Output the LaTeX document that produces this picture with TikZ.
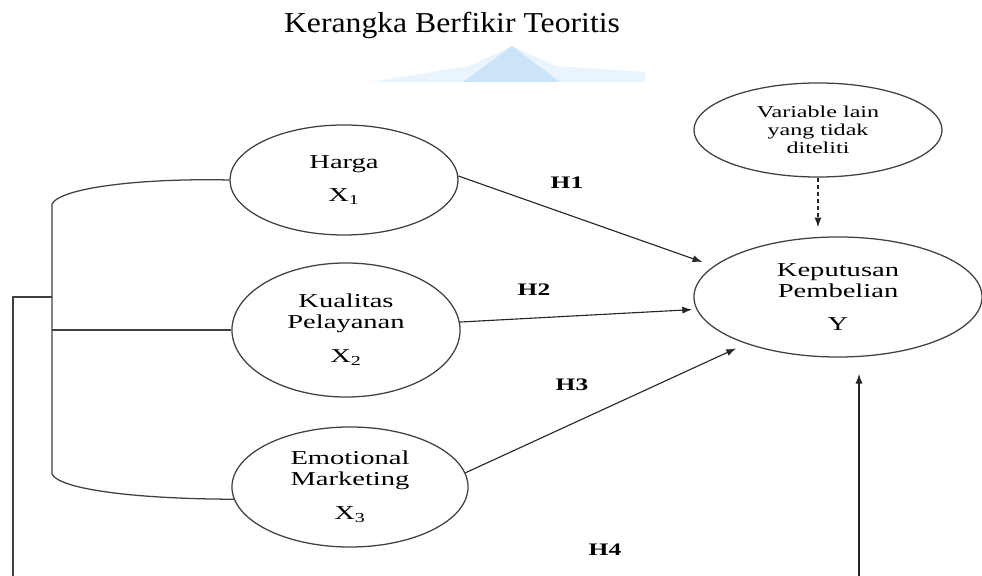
\documentclass[tikz,border=0pt]{standalone}
\usepackage{fontspec}
\setmainfont{Liberation Serif}
\newfontfamily\wideFont[FakeStretch=1.45]{Liberation Serif}
\newfontfamily\titleFont[FakeStretch=1.1]{Liberation Serif}
\usetikzlibrary{positioning,arrows.meta,shapes.geometric}
\definecolor{logoBlue}{RGB}{204,228,247}
\definecolor{logoPale}{RGB}{234,244,252}
\tikzset{varStyle/.style={
    ellipse,
    draw=black!75,
    line width=0.9pt,
    inner sep=0pt,
    align=center,
    font=\wideFont\fontsize{14}{15}\selectfont}
}
\tikzset{arrowStyle/.style={
    -{Latex[length=7pt,width=5pt]},
    line width=0.8pt,
    color=black!85}
}
\tikzset{lineStyle/.style={
    line width=0.9pt,
    color=black!75}
}
\tikzset{hypStyle/.style={font=\wideFont\bfseries\fontsize{12.5}{13}\selectfont}}

\begin{document}
\begin{tikzpicture}[x=0.025cm,y=-0.025cm]
      \useasboundingbox (0,0) rectangle (982,576);
      % faint logo behind the title
      \fill[color=logoPale] (370,82) -- (470,66) -- (512,46) -- (556,66) -- (645,72) -- (645,82) -- cycle;
      \fill[color=logoBlue] (463,82) -- (512,46) -- (560,82) -- cycle;

      \node[anchor=base, font=\titleFont\fontsize{20.5}{23}\selectfont] (title)
      at (452,33) {Kerangka Berfikir Teoritis};

      % variables
      \node[varStyle, minimum width=5.7cm, minimum height=2.75cm] (harga)
      at (344,180) {Harga\\[9pt]X\textsubscript{1}};
      \node[varStyle, minimum width=5.7cm, minimum height=3.35cm] (kual)
      at (346,330) {Kualitas\\Pelayanan\\[9pt]X\textsubscript{2}};
      \node[varStyle, minimum width=5.9cm, minimum height=3.0cm] (emo)
      at (350,487) {Emotional\\Marketing\\[9pt]X\textsubscript{3}};
      \node[varStyle, minimum width=7.2cm, minimum height=3.0cm] (kep)
      at (838,297) {Keputusan\\Pembelian\\[9pt]Y};
      \node[varStyle, minimum width=6.2cm, minimum height=2.35cm,
      font=\wideFont\fontsize{11.8}{12.8}\selectfont] (var)
      at (818,130) {Variable lain\\yang tidak\\diteliti};

      % hypotheses
      \draw[arrowStyle, shorten >=8.5pt] (harga.2) -- (kep.166);
      \draw[arrowStyle, shorten >=3pt] (kual.4) -- (kep.185);
      \draw[arrowStyle, shorten >=7.8pt] (emo.7) -- (kep.207);
      \draw[arrowStyle, dash pattern=on 3pt off 2pt, shorten >=6.4pt]
      (var.south) -- (var.south |- kep.north);

      \node[hypStyle] (h1) at (567,183) {H1};
      \node[hypStyle] (h2) at (534,290) {H2};
      \node[hypStyle] (h3) at (572,385) {H3};
      \node[hypStyle] (h4) at (605,550) {H4};

      % bracket on the left
      \coordinate (brTop) at (52,204);
      \coordinate (brBot) at (52,474);
      \coordinate (brMid) at (52,297);
      \coordinate (brFoot) at (13,580);
      \draw[lineStyle] (harga.west) .. controls (140,178) and (60,188) .. (brTop)
      -- (brBot) .. controls (60,490) and (140,499) .. (emo.186);
      \draw[lineStyle] (kual.west) -- (kual.west -| brTop);
      \draw[lineStyle] (brMid) -| (brFoot);

      % H4 comes up from below
      \coordinate (yFoot) at (859,580);
      \draw[arrowStyle, line width=0.9pt, shorten >=11.4pt] (yFoot) -- (yFoot |- kep.south);
\end{tikzpicture}
\end{document}
